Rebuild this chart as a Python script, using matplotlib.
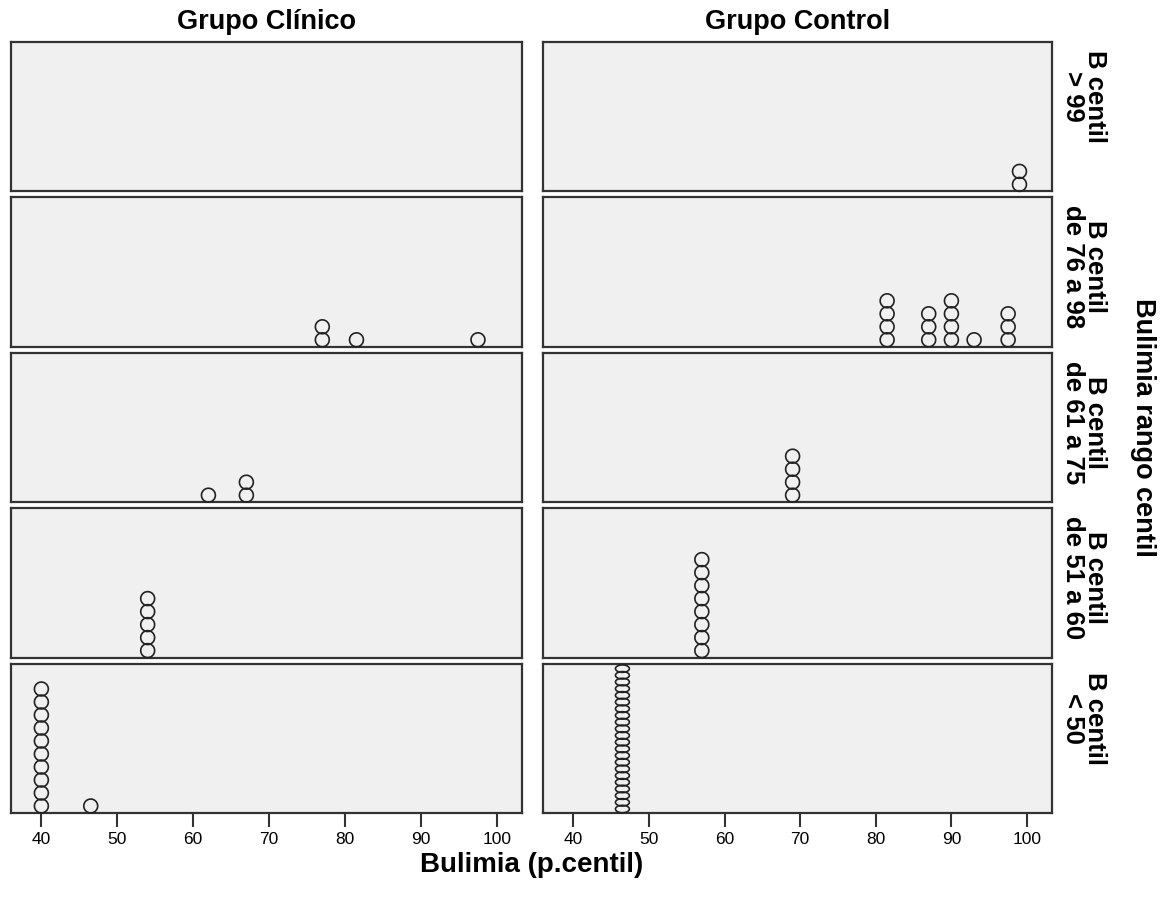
import numpy as np
import matplotlib.pyplot as plt
from matplotlib.path import Path
from collections import Counter

plt.rcParams['font.family'] = ['Liberation Sans', 'DejaVu Sans']

groups = ['Grupo Clínico', 'Grupo Control']
rangos = ['B centil\n> 99', 'B centil\nde 76 a 98', 'B centil\nde 61 a 75',
          'B centil\nde 51 a 60', 'B centil\n< 50']

# valores (p.centil) por panel, fila = rango, columna = grupo
clinico = [
    [],
    [77, 77, 81.5, 97.5],
    [62, 67, 67],
    [54] * 5,
    [40] * 10 + [46.5],
]
control = [
    [99, 99],
    [81.5] * 4 + [87] * 3 + [90] * 4 + [93] + [97.5] * 3,
    [69] * 4,
    [57] * 8,
    [46.5] * 22,
]
xticks = [40, 50, 60, 70, 80, 90, 100]

W, H = 1165, 898
fig = plt.figure(figsize=(W / 100, H / 100), dpi=100)

cols = [(11, 522), (543, 1052)]
top, bottom, gap = 42, 813, 6
rh = (bottom - top - 4 * gap) / 5

def ellipse_marker(aspect):
    t = np.linspace(0, 2 * np.pi, 60)
    verts = np.column_stack([np.cos(t), aspect * np.sin(t)])
    return Path(verts, closed=True)

for c, data in enumerate([clinico, control]):
    x0, x1 = cols[c]
    for r in range(5):
        y0 = top + r * (rh + gap)
        ax = fig.add_axes([x0 / W, 1 - (y0 + rh) / H, (x1 - x0) / W, rh / H])
        ax.set_facecolor('#f0f0f0')
        for s in ax.spines.values():
            s.set_color('#333333')
            s.set_linewidth(1.6)
        ax.set_xlim(36, 103.3)
        ax.set_ylim(0, rh)
        ax.set_yticks([])
        ax.set_xticks(xticks)
        if r == 4:
            ax.tick_params(axis='x', length=10, width=1.5, color='#333333',
                           labelsize=12.5, pad=4)
        else:
            ax.tick_params(axis='x', length=0, labelbottom=False)

        # apilar puntos repetidos (dot plot)
        cnt = Counter(data[r])
        for val, n in cnt.items():
            sp = 13.0
            if n > 1 and (n - 1) * sp > rh - 9:
                sp = (rh - 9) / (n - 1)
            aspect = min(1.0, sp / 12.5)
            ys = [6.5 * aspect + 0.5 + i * sp for i in range(n)]
            ax.scatter([val] * n, ys, s=100, marker=ellipse_marker(aspect),
                       facecolor='none', edgecolor='#222222', linewidth=1.2,
                       zorder=3, clip_on=False)

        if c == 1:
            fig.text(1084 / W, 1 - (y0 + 8) / H, rangos[r], rotation=-90,
                     ha='center', va='top', fontsize=18.5, fontweight='bold',
                     multialignment='center', linespacing=0.9)

    fig.text((x0 + x1) / 2 / W, 1 - 22 / H, groups[c], ha='center',
             va='center', fontsize=19.5, fontweight='bold')

fig.text(1143 / W, 1 - (top + bottom) / 2 / H, 'Bulimia rango centil',
         rotation=-90, ha='center', va='center', fontsize=19.5, fontweight='bold')
fig.text((cols[0][0] + cols[1][1]) / 2 / W, 1 - 865 / H, 'Bulimia (p.centil)',
         ha='center', va='center', fontsize=20, fontweight='bold')

fig.savefig('out.png', dpi=100, facecolor='white')
